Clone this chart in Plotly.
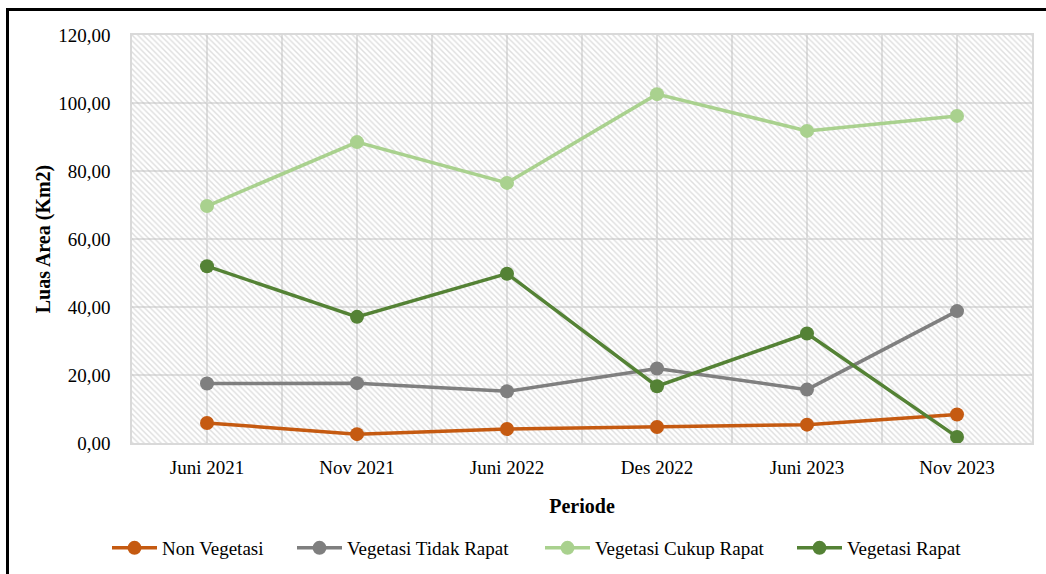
import plotly.graph_objects as go

periods = ["Juni 2021", "Nov 2021", "Juni 2022", "Des 2022", "Juni 2023", "Nov 2023"]
non_vegetasi = [5.9, 2.6, 4.1, 4.7, 5.4, 8.4]
veg_tidak_rapat = [17.5, 17.6, 15.2, 21.9, 15.7, 38.8]
veg_cukup_rapat = [69.7, 88.5, 76.5, 102.6, 91.8, 96.2]
veg_rapat = [52.0, 37.1, 49.8, 16.7, 32.2, 1.8]

series_names = ["Non Vegetasi", "Vegetasi Tidak Rapat", "Vegetasi Cukup Rapat", "Vegetasi Rapat"]
series_values = [non_vegetasi, veg_tidak_rapat, veg_cukup_rapat, veg_rapat]
series_colors = ["#C55A11", "#7F7F7F", "#A9D18E", "#548235"]
legend_ids = ["legend", "legend2", "legend3", "legend4"]
legend_left_px = [107, 292, 540, 792]

y_max = 120
xpos = list(range(len(periods)))

FONT = "Liberation Serif"
ML, MR, MT, MB = 132, 14, 35, 131
W, H = 1046, 574
PW, PH = W - ML - MR, H - MT - MB

fig = go.Figure()

# hatched plot-area background
fig.add_trace(go.Bar(
    x=xpos, y=[y_max] * len(periods), width=1,
    marker=dict(color="rgba(0,0,0,0)", line=dict(width=0),
                pattern=dict(shape="\\", fgcolor="#bdbdbd", bgcolor="rgba(0,0,0,0)",
                             size=4, solidity=0.35)),
    showlegend=False, hoverinfo="skip"))

for name, vals, col, lid in zip(series_names, series_values, series_colors, legend_ids):
    fig.add_trace(go.Scatter(
        x=xpos, y=vals, name=name, mode="lines+markers",
        line=dict(color=col, width=3.5),
        marker=dict(color=col, size=14),
        legend=lid,
    ))

legend_layout = {}
for lid, px in zip(legend_ids, legend_left_px):
    legend_layout[lid] = dict(
        orientation="h", xref="container", yref="container",
        x=px / W, xanchor="left",
        y=(H - 548) / H, yanchor="middle",
        font=dict(family=FONT, size=19, color="#000000"),
        itemwidth=45, bgcolor="rgba(0,0,0,0)",
    )

fig.update_layout(
    width=W, height=H,
    margin=dict(l=ML, r=MR, t=MT, b=MB, autoexpand=False),
    paper_bgcolor="white", plot_bgcolor="white",
    separators=",.",
    font=dict(family=FONT, size=19, color="#000000"),
    showlegend=True,
    bargap=0,
    shapes=[dict(type="rect", xref="paper", yref="paper",
                 x0=(7.5 - ML) / PW, x1=1.2, y0=-0.5, y1=1 + (MT - 9.5) / PH,
                 line=dict(color="black", width=3), fillcolor="rgba(0,0,0,0)", layer="above")],
    **legend_layout,
)

fig.update_xaxes(
    range=[-0.5, len(periods) - 0.5], automargin=False,
    tickmode="array", tickvals=xpos, ticktext=periods,
    showgrid=True, gridcolor="#e0e0e0", gridwidth=1.5,
    minor=dict(tickmode="linear", tick0=-0.5, dtick=1, showgrid=True,
               gridcolor="#e0e0e0", gridwidth=1.5, ticks=""),
    showline=True, linecolor="#d9d9d9", linewidth=1.5, mirror=True,
    ticks="", ticklabelstandoff=6,
    tickfont=dict(family=FONT, size=19, color="#000000"),
    title=dict(text="<b>Periode</b>", font=dict(family=FONT, size=20, color="#000000"), standoff=22),
    zeroline=False,
)
fig.update_yaxes(
    range=[0, y_max], tickmode="linear", tick0=0, dtick=20, tickformat=".2f",
    automargin=False,
    showgrid=True, gridcolor="#e0e0e0", gridwidth=1.5,
    showline=True, linecolor="#d9d9d9", linewidth=1.5, mirror=True,
    ticks="", ticklabelstandoff=16,
    tickfont=dict(family=FONT, size=19, color="#000000"),
    title=dict(text="<b>Luas Area (Km2)</b>", font=dict(family=FONT, size=20, color="#000000"), standoff=2),
    zeroline=False,
)

fig.write_html("out.html")
